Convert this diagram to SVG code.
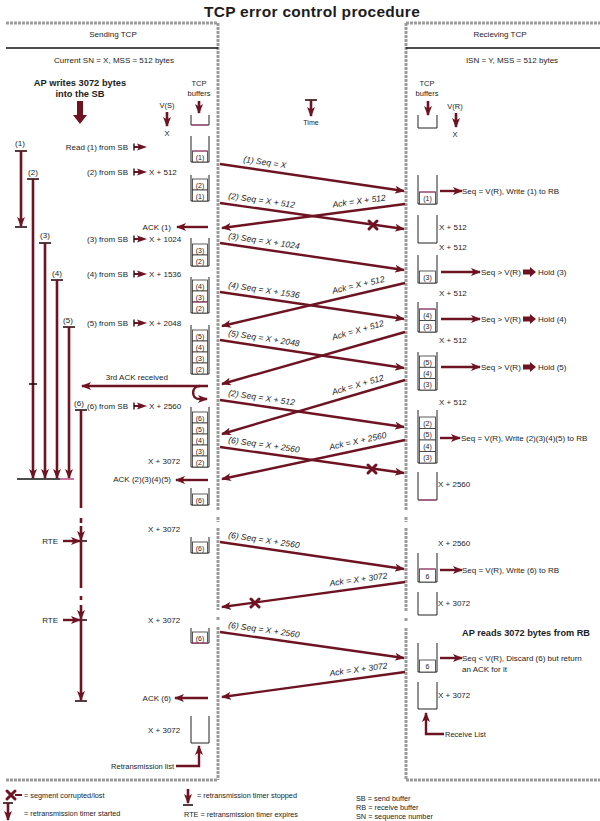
<svg xmlns="http://www.w3.org/2000/svg" width="600" height="821" viewBox="0 0 600 821">
<defs>
<style>
text{font-family:"Liberation Sans",Arial,sans-serif;fill:#1c1c1c;font-size:8px}
.s{font-size:7.3px}
.c{font-size:7px;text-anchor:middle}
.e{text-anchor:end}
.m{text-anchor:middle}
.i{font-size:8.5px;font-style:italic}
.bd{font-weight:bold}
.bdr{stroke:#9b9b9b;stroke-width:3;fill:none;stroke-dasharray:3 1}
.sep{stroke:#111;stroke-width:1.3}
.bk{fill:none;stroke:#222;stroke-width:1}
.cell{fill:#fff;stroke:#333;stroke-width:0.8}
.mg{stroke:#b23a78;stroke-width:1;fill:none}
.ln{stroke:#6e1322;stroke-width:2.4;fill:none}
.ar{stroke:#6e1322;stroke-width:2.4;fill:none;marker-end:url(#ah)}
.tm{stroke:#6e1322;stroke-width:2.6;fill:none}
.tma{stroke:#6e1322;stroke-width:2.6;fill:none;marker-end:url(#ah)}
.bar{stroke:#2a0c10;stroke-width:1.6}
.x{stroke:#6e1322;stroke-width:3;fill:none;stroke-linecap:round}
.f{fill:#6e1322}
</style>
<marker id="ah" viewBox="0 0 10 8" refX="9" refY="4" markerWidth="10" markerHeight="8" markerUnits="userSpaceOnUse" orient="auto"><path d="M0,0 L10,4 L0,8 L2.5,4 z" fill="#6e1322"/></marker>
<path id="hold" d="M0,-2.5 H7 V-5 L13,0 L7,5 V2.5 H0 z" fill="#6e1322"/>
<g id="ptr"><line x1="1" y1="0" x2="8" y2="0" stroke="#6e1322" stroke-width="2"/><line x1="1" y1="-3.5" x2="1" y2="3.5" stroke="#2a0c10" stroke-width="1.4"/><path d="M4,-3.5 L14,0 L4,3.5 L6,0 z" fill="#6e1322"/></g>
</defs>
<rect width="600" height="821" fill="#fff"/>

<g id="title"><text x="312" y="17" class="bd m" style="font-size:15.5px;letter-spacing:0.3px">TCP error control procedure</text></g>

<g id="sending-panel">
<path class="bdr" d="M6,23 H218"/>
<path class="bdr" d="M218,23 V510 M218,517 V522 M218,528 V610 M218,617 V621 M218,627 V780"/>
<path class="bdr" d="M6,780 H218"/>
<line class="sep" x1="6" y1="48" x2="218" y2="48"/>
<text x="113" y="37" class="m">Sending TCP</text>
<text x="114" y="63" class="m">Current SN = X, MSS = 512 bytes</text>
<text x="80" y="86" class="m bd" style="font-size:9.3px">AP writes 3072 bytes</text>
<text x="80" y="97" class="m bd" style="font-size:9.3px">into the SB</text>
<path class="f" d="M77,101 H83 V115 H87 L80,124 L73,115 H77 z"/>
<text x="167" y="108" class="m" style="font-size:7.5px">V(S)</text>
<line class="tma" x1="167" y1="112" x2="167" y2="126"/>
<text x="167" y="136" class="m" style="font-size:7.5px">X</text>
<text x="199" y="86" class="m" style="font-size:7.5px">TCP</text>
<text x="199" y="96" class="m" style="font-size:7.5px">buffers</text>
<line class="tma" x1="199" y1="101" x2="199" y2="113"/>
</g>

<g id="receiving-panel">
<path class="bdr" d="M406,23 H600"/>
<path class="bdr" d="M406,23 V510 M406,517 V522 M406,528 V612 M406,618 V622 M406,628 V780"/>
<path class="bdr" d="M406,780 H600"/>
<line class="sep" x1="406" y1="48" x2="600" y2="48"/>
<text x="500" y="37" class="m">Recieving TCP</text>
<text x="512" y="63" class="m">ISN = Y, MSS = 512 bytes</text>
<text x="427" y="86" class="m" style="font-size:7.5px">TCP</text>
<text x="427" y="96" class="m" style="font-size:7.5px">buffers</text>
<line class="tma" x1="428" y1="101" x2="428" y2="115"/>
<text x="455" y="109" class="m" style="font-size:7.5px">V(R)</text>
<line class="tma" x1="456" y1="113" x2="456" y2="127"/>
<text x="455" y="137" class="m" style="font-size:7.5px">X</text>
</g>

<g id="time"><line class="bar" x1="305" y1="100" x2="317" y2="100"/><line class="tma" x1="311" y1="100" x2="311" y2="116"/><text x="311" y="125" class="m" style="font-size:7px">Time</text></g>

<g id="sender-buffers">
<g id="sb0"><path class="bk" d="M191,115 V125 H209 V115"/><line class="mg" x1="192" y1="125" x2="208" y2="125"/></g>
<g id="sb1"><path class="bk" d="M191,136 V162 H209 V136"/><rect class="cell" x="192.5" y="151" width="15" height="11"/><line class="mg" x1="192.5" y1="151" x2="207.5" y2="151"/><text class="c" x="200" y="159.5">(1)</text></g>
<g id="sb2"><path class="bk" d="M191,175 V201 H209 V175"/><rect class="cell" x="192.5" y="179" width="15" height="11"/><rect class="cell" x="192.5" y="190" width="15" height="11"/><text class="c" x="200" y="187.5">(2)</text><text class="c" x="200" y="198.5">(1)</text></g>
<g id="sb3"><path class="bk" d="M191,238 V266 H209 V238"/><rect class="cell" x="192.5" y="244" width="15" height="11"/><rect class="cell" x="192.5" y="255" width="15" height="11"/><text class="c" x="200" y="252.5">(3)</text><text class="c" x="200" y="263.5">(2)</text></g>
<g id="sb4"><path class="bk" d="M191,277 V313 H209 V277"/><rect class="cell" x="192.5" y="280" width="15" height="11"/><rect class="cell" x="192.5" y="291" width="15" height="11"/><rect class="cell" x="192.5" y="302" width="15" height="11"/><line class="mg" x1="192.5" y1="302" x2="207.5" y2="302"/><text class="c" x="200" y="288.5">(4)</text><text class="c" x="200" y="299.5">(3)</text><text class="c" x="200" y="310.5">(2)</text></g>
<g id="sb5"><path class="bk" d="M191,325 V374 H209 V325"/><rect class="cell" x="192.5" y="330" width="15" height="11"/><rect class="cell" x="192.5" y="341" width="15" height="11"/><rect class="cell" x="192.5" y="352" width="15" height="11"/><rect class="cell" x="192.5" y="363" width="15" height="11"/><text class="c" x="200" y="338.5">(5)</text><text class="c" x="200" y="349.5">(4)</text><text class="c" x="200" y="360.5">(3)</text><text class="c" x="200" y="371.5">(2)</text></g>
<g id="sb6"><path class="bk" d="M191,407 V467 H209 V407"/><rect class="cell" x="192.5" y="412" width="15" height="11"/><rect class="cell" x="192.5" y="423" width="15" height="11"/><rect class="cell" x="192.5" y="434" width="15" height="11"/><rect class="cell" x="192.5" y="445" width="15" height="11"/><rect class="cell" x="192.5" y="456" width="15" height="11"/><text class="c" x="200" y="420.5">(6)</text><text class="c" x="200" y="431.5">(5)</text><text class="c" x="200" y="442.5">(4)</text><text class="c" x="200" y="453.5">(3)</text><text class="c" x="200" y="464.5">(2)</text></g>
<g id="sb7"><path class="bk" d="M191,488 V505 H209 V488"/><rect class="cell" x="192.5" y="494" width="15" height="11"/><text class="c" x="200" y="502.5">(6)</text></g>
<g id="sb8"><path class="bk" d="M191,537 V553 H209 V537"/><rect class="cell" x="192.5" y="542" width="15" height="11"/><text class="c" x="200" y="550.5">(6)</text></g>
<g id="sb9"><path class="bk" d="M191,628 V643 H209 V628"/><rect class="cell" x="192.5" y="632" width="15" height="11"/><line class="mg" x1="192" y1="643" x2="208" y2="643"/><text class="c" x="200" y="640.5">(6)</text></g>
<g id="sb10"><path class="bk" d="M191,716 V743 H209 V716"/></g>
</g>

<g id="sender-labels">
<text x="128" y="150" class="e">Read (1) from SB</text><use href="#ptr" x="133" y="147"/>
<text x="128" y="175" class="e">(2) from SB</text><use href="#ptr" x="133" y="172"/><text x="149" y="175">X + 512</text>
<text x="171" y="230" class="e">ACK (1)</text>
<text x="128" y="242" class="e">(3) from SB</text><use href="#ptr" x="133" y="239"/><text x="149" y="242">X + 1024</text>
<text x="128" y="277" class="e">(4) from SB</text><use href="#ptr" x="133" y="274"/><text x="149" y="277">X + 1536</text>
<text x="128" y="326" class="e">(5) from SB</text><use href="#ptr" x="133" y="323"/><text x="149" y="326">X + 2048</text>
<text x="168" y="380" class="e">3rd ACK received</text>
<text x="128" y="409" class="e">(6) from SB</text><use href="#ptr" x="133" y="406"/><text x="149" y="409">X + 2560</text>
<text x="148" y="464">X + 3072</text>
<text x="171" y="482" class="e">ACK (2)(3)(4)(5)</text>
<text x="148" y="532">X + 3072</text>
<text x="148" y="623">X + 3072</text>
<text x="171" y="701" class="e">ACK (6)</text>
<text x="148" y="733">X + 3072</text>
<text x="174" y="769" class="e" style="font-size:7.5px">Retransmission list</text>
<text x="58" y="544" class="e">RTE</text>
<text x="58" y="623" class="e">RTE</text>
</g>

<g id="timers">
<text x="20" y="146" class="m">(1)</text>
<line class="bar" x1="15" y1="151" x2="27" y2="151"/><line class="tma" x1="21" y1="151" x2="21" y2="226"/><line class="bar" x1="15" y1="227" x2="27" y2="227"/>
<text x="33" y="175" class="m">(2)</text>
<line class="bar" x1="27" y1="179" x2="39" y2="179"/><line class="tma" x1="33" y1="179" x2="33" y2="478"/>
<line class="bar" x1="29" y1="384" x2="37" y2="384"/>
<text x="45" y="238" class="m">(3)</text>
<line class="bar" x1="39" y1="243" x2="51" y2="243"/><line class="tma" x1="45" y1="243" x2="45" y2="478"/>
<text x="57" y="276" class="m">(4)</text>
<line class="bar" x1="51" y1="280" x2="63" y2="280"/><line class="tma" x1="57" y1="280" x2="57" y2="478"/>
<text x="68" y="323" class="m">(5)</text>
<line class="bar" x1="63" y1="327" x2="75" y2="327"/><line class="tma" x1="69" y1="327" x2="69" y2="478"/>
<line x1="17" y1="479" x2="60" y2="479" stroke="#111" stroke-width="1.4"/><line x1="60" y1="479" x2="74" y2="479" stroke="#b23a78" stroke-width="1.4"/>
<text x="79" y="406" class="m">(6)</text>
<line class="bar" x1="75" y1="410" x2="87" y2="410"/>
<path class="tm" d="M81,410 V508 M81,518 V523"/>
<line class="tma" x1="81" y1="526" x2="81" y2="540"/>
<line class="bar" x1="75" y1="541" x2="87" y2="541"/>
<path class="tm" d="M81,541 V588 M81,596 V600"/>
<line class="tma" x1="81" y1="605" x2="81" y2="619"/>
<line class="bar" x1="75" y1="620" x2="87" y2="620"/>
<line class="tma" x1="81" y1="620" x2="81" y2="700"/>
<line class="bar" x1="75" y1="701" x2="87" y2="701"/>
</g>

<g id="receiver-buffers">
<g id="rb0"><path class="bk" d="M418,115 V128 H437 V115"/></g>
<g id="rb1"><path class="bk" d="M418,175 V204 H437 V175"/><rect class="cell" x="419.5" y="192" width="16" height="12"/><line class="mg" x1="419.5" y1="192" x2="435.5" y2="192"/><text class="c" x="427.5" y="200.5">(1)</text></g>
<g id="rb2"><path class="bk" d="M418,215 V243 H437 V215"/></g>
<g id="rb3"><path class="bk" d="M418,255 V283 H437 V255"/><rect class="cell" x="419.5" y="271" width="16" height="12"/><text class="c" x="427.5" y="279.5">(3)</text></g>
<g id="rb4"><path class="bk" d="M418,302 V332 H437 V302"/><rect class="cell" x="419.5" y="309" width="16" height="11.5"/><rect class="cell" x="419.5" y="320.5" width="16" height="11.5"/><line class="mg" x1="419.5" y1="309" x2="435.5" y2="309"/><text class="c" x="427.5" y="317.5">(4)</text><text class="c" x="427.5" y="329">(3)</text></g>
<g id="rb5"><path class="bk" d="M418,352 V390 H437 V352"/><rect class="cell" x="419.5" y="356" width="16" height="11.3"/><rect class="cell" x="419.5" y="367.3" width="16" height="11.3"/><rect class="cell" x="419.5" y="378.6" width="16" height="11.4"/><text class="c" x="427.5" y="364.5">(5)</text><text class="c" x="427.5" y="375.8">(4)</text><text class="c" x="427.5" y="387.1">(3)</text></g>
<g id="rb6"><path class="bk" d="M418,410 V463 H437 V410"/><rect class="cell" x="419.5" y="417" width="16" height="11.5"/><rect class="cell" x="419.5" y="428.5" width="16" height="11.5"/><rect class="cell" x="419.5" y="440" width="16" height="11.5"/><rect class="cell" x="419.5" y="451.5" width="16" height="11.5"/><text class="c" x="427.5" y="425.5">(2)</text><text class="c" x="427.5" y="437">(5)</text><text class="c" x="427.5" y="448.5">(4)</text><text class="c" x="427.5" y="460">(3)</text></g>
<g id="rb7"><path class="bk" d="M418,472 V500 H437 V472"/><line class="mg" x1="419" y1="500" x2="436" y2="500"/></g>
<g id="rb8"><path class="bk" d="M418,553 V582 H437 V553"/><rect class="cell" x="419.5" y="569" width="16" height="13"/><line class="mg" x1="419.5" y1="569" x2="435.5" y2="569"/><text class="c" x="427.5" y="578.5">6</text></g>
<g id="rb9"><path class="bk" d="M418,592 V615 H437 V592"/></g>
<g id="rb10"><path class="bk" d="M418,643 V672 H437 V643"/><rect class="cell" x="419.5" y="660" width="16" height="12"/><text class="c" x="427.5" y="669">6</text></g>
<g id="rb11"><path class="bk" d="M418,682 V709 H437 V682"/></g>
</g>

<g id="receiver-labels">
<text x="462" y="194">Seq = V(R), Write (1) to RB</text>
<text x="439" y="230">X + 512</text>
<text x="439" y="250">X + 512</text>
<text x="481" y="275">Seq &gt; V(R)</text><use href="#hold" x="523" y="272"/><text x="538" y="275">Hold (3)</text>
<text x="439" y="296">X + 512</text>
<text x="481" y="322">Seq &gt; V(R)</text><use href="#hold" x="523" y="319"/><text x="538" y="322">Hold (4)</text>
<text x="439" y="343">X + 512</text>
<text x="481" y="370">Seq &gt; V(R)</text><use href="#hold" x="523" y="367"/><text x="538" y="370">Hold (5)</text>
<text x="439" y="405">X + 512</text>
<text x="461" y="441">Seq = V(R), Write (2)(3)(4)(5) to RB</text>
<text x="438" y="487">X + 2560</text>
<text x="438" y="546">X + 2560</text>
<text x="462" y="573">Seq = V(R), Write (6) to RB</text>
<text x="438" y="606">X + 3072</text>
<text x="462" y="636" class="bd" style="font-size:9.2px">AP reads 3072 bytes from RB</text>
<text x="462" y="661">Seq &lt; V(R), Discard (6) but return</text>
<text x="462" y="672">an ACK for it</text>
<text x="438" y="698">X + 3072</text>
<text x="445" y="737" style="font-size:7.5px">Receive List</text>
</g>

<g id="connectors">
<line class="ar" x1="220" y1="164" x2="404" y2="191"/>
<line class="ar" x1="220" y1="203" x2="404" y2="229"/>
<line class="ar" x1="405" y1="204" x2="222" y2="228"/>
<line class="ar" x1="220" y1="243" x2="404" y2="270"/>
<line class="ar" x1="220" y1="292" x2="404" y2="319"/>
<line class="ar" x1="405" y1="283" x2="222" y2="326"/>
<line class="ar" x1="220" y1="340" x2="404" y2="368"/>
<line class="ar" x1="405" y1="332" x2="222" y2="384"/>
<line class="ar" x1="220" y1="400" x2="404" y2="427"/>
<line class="ar" x1="405" y1="380" x2="222" y2="434"/>
<line class="ar" x1="220" y1="447" x2="404" y2="473"/>
<line class="ar" x1="405" y1="440" x2="222" y2="479"/>
<line class="ar" x1="220" y1="542" x2="404" y2="569"/>
<line class="ar" x1="405" y1="582" x2="222" y2="607"/>
<line class="ar" x1="220" y1="632" x2="404" y2="658"/>
<line class="ar" x1="405" y1="672" x2="222" y2="697"/>
<path class="x" d="M369,221 L377,229 M377,221 L369,229"/>
<path class="x" d="M368,465 L376,473 M376,465 L368,473"/>
<path class="x" d="M251,599 L259,607 M259,599 L251,607"/>
<line class="ar" x1="208" y1="227" x2="177" y2="227"/>
<line class="ar" x1="208" y1="386" x2="82" y2="386"/>
<path class="ar" d="M200,386 C191,386 191,399 199,399 L207,399"/>
<line class="ar" x1="208" y1="480" x2="176" y2="480"/>
<line class="ar" x1="208" y1="698" x2="175" y2="698"/>
<line class="ar" x1="63" y1="541" x2="80" y2="541"/>
<line class="ar" x1="63" y1="620" x2="80" y2="620"/>
<line class="ar" x1="440" y1="191" x2="462" y2="191"/>
<line class="ar" x1="441" y1="272" x2="480" y2="272"/>
<line class="ar" x1="441" y1="319" x2="480" y2="319"/>
<line class="ar" x1="441" y1="367" x2="480" y2="367"/>
<line class="ar" x1="440" y1="438" x2="460" y2="438"/>
<line class="ar" x1="440" y1="570" x2="462" y2="570"/>
<line class="ar" x1="440" y1="658" x2="462" y2="658"/>
<path class="ar" d="M176,766 H199 V746"/>
<path class="ar" d="M444,734 H426 V713"/>
</g>

<g id="seq-labels">
<text class="i" transform="translate(243,162) rotate(8.35)">(1) Seq = X</text>
<text class="i" transform="translate(228,198.6) rotate(8.04)">(2) Seq = X + 512</text>
<text class="i" transform="translate(228,238.7) rotate(8.35)">(3) Seq = X + 1024</text>
<text class="i" transform="translate(228,287.7) rotate(8.35)">(4) Seq = X + 1536</text>
<text class="i" transform="translate(228,335.7) rotate(8.65)">(5) Seq = X + 2048</text>
<text class="i" transform="translate(228,395.7) rotate(8.35)">(2) Seq = X + 512</text>
<text class="i" transform="translate(228,442.6) rotate(8.04)">(6) Seq = X + 2560</text>
<text class="i" transform="translate(228,537.7) rotate(8.35)">(6) Seq = X + 2560</text>
<text class="i" transform="translate(228,627.6) rotate(8.04)">(6) Seq = X + 2560</text>
<text class="i" transform="translate(333,207.4) rotate(-7.43)">Ack = X + 512</text>
<text class="i" transform="translate(333,293.8) rotate(-13.15)">Ack = X + 512</text>
<text class="i" transform="translate(333,340.3) rotate(-15.78)">Ack = X + 512</text>
<text class="i" transform="translate(333,395.1) rotate(-16.36)">Ack = X + 512</text>
<text class="i" transform="translate(330,449.9) rotate(-11.97)">Ack = X + 2560</text>
<text class="i" transform="translate(330,586.2) rotate(-7.74)">Ack = X + 3072</text>
<text class="i" transform="translate(330,676.2) rotate(-7.74)">Ack = X + 3072</text>
</g>

<g id="legend">
<path class="x" d="M7,791 L15,799 M15,791 L7,799"/><line x1="15" y1="795" x2="22" y2="795" stroke="#6e1322" stroke-width="2"/>
<text x="24" y="798" class="s">= segment corrupted/lost</text>
<line class="bar" x1="3" y1="803" x2="13" y2="803"/><line class="tma" x1="8" y1="803" x2="8" y2="820"/>
<text x="24" y="816" class="s">= retransmission timer started</text>
<line class="tma" x1="188" y1="789" x2="188" y2="803"/><line class="bar" x1="183" y1="805" x2="193" y2="805"/>
<text x="197" y="798" class="s">= retransmission timer stopped</text>
<text x="184" y="817" class="s">RTE = retransmission timer expires</text>
<text x="356" y="801" class="s">SB = send buffer</text>
<text x="356" y="810" class="s">RB = receive buffer</text>
<text x="356" y="819" class="s">SN = sequence number</text>
</g>
</svg>
